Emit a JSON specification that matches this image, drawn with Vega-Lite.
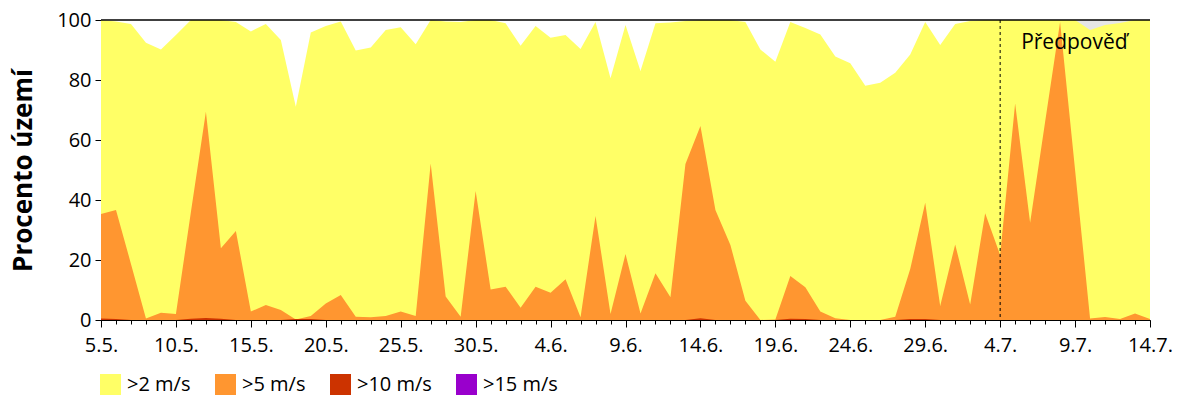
{
  "$schema": "https://vega.github.io/schema/vega-lite/v6.json",
  "width": 1049,
  "height": 300,
  "autosize": "none",
  "padding": {"left": 101, "top": 20, "right": 50, "bottom": 80},
  "background": "white",
  "config": {
    "view": {"stroke": null},
    "font": "Open Sans",
    "axis": {"domainColor": "black", "tickColor": "black", "labelColor": "black", "titleColor": "black", "grid": false}
  },
  "datasets": {
    "bg": [
      {"date": "2025-07-04", "value": 100}, {"date": "2025-07-05", "value": 100}, {"date": "2025-07-06", "value": 100},
      {"date": "2025-07-07", "value": 100}, {"date": "2025-07-08", "value": 100}, {"date": "2025-07-09", "value": 100},
      {"date": "2025-07-10", "value": 100}, {"date": "2025-07-11", "value": 100}, {"date": "2025-07-12", "value": 100},
      {"date": "2025-07-13", "value": 100}, {"date": "2025-07-14", "value": 100}
    ],
    "wind": [
      {"date": "2025-05-05", "cat": ">2 m/s", "value": 100},
      {"date": "2025-05-06", "cat": ">2 m/s", "value": 99.5},
      {"date": "2025-05-07", "cat": ">2 m/s", "value": 98.7},
      {"date": "2025-05-08", "cat": ">2 m/s", "value": 92.4},
      {"date": "2025-05-09", "cat": ">2 m/s", "value": 90.2},
      {"date": "2025-05-10", "cat": ">2 m/s", "value": 95},
      {"date": "2025-05-11", "cat": ">2 m/s", "value": 100},
      {"date": "2025-05-12", "cat": ">2 m/s", "value": 100},
      {"date": "2025-05-13", "cat": ">2 m/s", "value": 100},
      {"date": "2025-05-14", "cat": ">2 m/s", "value": 99.3},
      {"date": "2025-05-15", "cat": ">2 m/s", "value": 96.2},
      {"date": "2025-05-16", "cat": ">2 m/s", "value": 98.7},
      {"date": "2025-05-17", "cat": ">2 m/s", "value": 93.3},
      {"date": "2025-05-18", "cat": ">2 m/s", "value": 71.1},
      {"date": "2025-05-19", "cat": ">2 m/s", "value": 95.8},
      {"date": "2025-05-20", "cat": ">2 m/s", "value": 98},
      {"date": "2025-05-21", "cat": ">2 m/s", "value": 99.5},
      {"date": "2025-05-22", "cat": ">2 m/s", "value": 89.8},
      {"date": "2025-05-23", "cat": ">2 m/s", "value": 90.8},
      {"date": "2025-05-24", "cat": ">2 m/s", "value": 96.7},
      {"date": "2025-05-25", "cat": ">2 m/s", "value": 97.6},
      {"date": "2025-05-26", "cat": ">2 m/s", "value": 91.9},
      {"date": "2025-05-27", "cat": ">2 m/s", "value": 100},
      {"date": "2025-05-28", "cat": ">2 m/s", "value": 99.5},
      {"date": "2025-05-29", "cat": ">2 m/s", "value": 99.3},
      {"date": "2025-05-30", "cat": ">2 m/s", "value": 100},
      {"date": "2025-05-31", "cat": ">2 m/s", "value": 100},
      {"date": "2025-06-01", "cat": ">2 m/s", "value": 98.9},
      {"date": "2025-06-02", "cat": ">2 m/s", "value": 91.4},
      {"date": "2025-06-03", "cat": ">2 m/s", "value": 98},
      {"date": "2025-06-04", "cat": ">2 m/s", "value": 94.1},
      {"date": "2025-06-05", "cat": ">2 m/s", "value": 95},
      {"date": "2025-06-06", "cat": ">2 m/s", "value": 90.3},
      {"date": "2025-06-07", "cat": ">2 m/s", "value": 99.3},
      {"date": "2025-06-08", "cat": ">2 m/s", "value": 80.6},
      {"date": "2025-06-09", "cat": ">2 m/s", "value": 98.3},
      {"date": "2025-06-10", "cat": ">2 m/s", "value": 83},
      {"date": "2025-06-11", "cat": ">2 m/s", "value": 98.9},
      {"date": "2025-06-12", "cat": ">2 m/s", "value": 99.2},
      {"date": "2025-06-13", "cat": ">2 m/s", "value": 99.7},
      {"date": "2025-06-14", "cat": ">2 m/s", "value": 100},
      {"date": "2025-06-15", "cat": ">2 m/s", "value": 100},
      {"date": "2025-06-16", "cat": ">2 m/s", "value": 100},
      {"date": "2025-06-17", "cat": ">2 m/s", "value": 99.3},
      {"date": "2025-06-18", "cat": ">2 m/s", "value": 90.2},
      {"date": "2025-06-19", "cat": ">2 m/s", "value": 86.1},
      {"date": "2025-06-20", "cat": ">2 m/s", "value": 99.3},
      {"date": "2025-06-21", "cat": ">2 m/s", "value": 97.3},
      {"date": "2025-06-22", "cat": ">2 m/s", "value": 95.2},
      {"date": "2025-06-23", "cat": ">2 m/s", "value": 87.8},
      {"date": "2025-06-24", "cat": ">2 m/s", "value": 85.6},
      {"date": "2025-06-25", "cat": ">2 m/s", "value": 78.1},
      {"date": "2025-06-26", "cat": ">2 m/s", "value": 79.1},
      {"date": "2025-06-27", "cat": ">2 m/s", "value": 82.4},
      {"date": "2025-06-28", "cat": ">2 m/s", "value": 88.5},
      {"date": "2025-06-29", "cat": ">2 m/s", "value": 99.3},
      {"date": "2025-06-30", "cat": ">2 m/s", "value": 91.7},
      {"date": "2025-07-01", "cat": ">2 m/s", "value": 98.7},
      {"date": "2025-07-02", "cat": ">2 m/s", "value": 99.7},
      {"date": "2025-07-03", "cat": ">2 m/s", "value": 100},
      {"date": "2025-07-04", "cat": ">2 m/s", "value": 100},
      {"date": "2025-07-05", "cat": ">2 m/s", "value": 100},
      {"date": "2025-07-06", "cat": ">2 m/s", "value": 100},
      {"date": "2025-07-07", "cat": ">2 m/s", "value": 100},
      {"date": "2025-07-08", "cat": ">2 m/s", "value": 100},
      {"date": "2025-07-09", "cat": ">2 m/s", "value": 100},
      {"date": "2025-07-10", "cat": ">2 m/s", "value": 96.7},
      {"date": "2025-07-11", "cat": ">2 m/s", "value": 98.3},
      {"date": "2025-07-12", "cat": ">2 m/s", "value": 99},
      {"date": "2025-07-13", "cat": ">2 m/s", "value": 100},
      {"date": "2025-07-14", "cat": ">2 m/s", "value": 100},

      {"date": "2025-05-05", "cat": ">5 m/s", "value": 35.3},
      {"date": "2025-05-06", "cat": ">5 m/s", "value": 36.7},
      {"date": "2025-05-07", "cat": ">5 m/s", "value": 18.7},
      {"date": "2025-05-08", "cat": ">5 m/s", "value": 0.5},
      {"date": "2025-05-09", "cat": ">5 m/s", "value": 2.4},
      {"date": "2025-05-10", "cat": ">5 m/s", "value": 2},
      {"date": "2025-05-11", "cat": ">5 m/s", "value": 36},
      {"date": "2025-05-12", "cat": ">5 m/s", "value": 69.4},
      {"date": "2025-05-13", "cat": ">5 m/s", "value": 23.9},
      {"date": "2025-05-14", "cat": ">5 m/s", "value": 29.7},
      {"date": "2025-05-15", "cat": ">5 m/s", "value": 2.8},
      {"date": "2025-05-16", "cat": ">5 m/s", "value": 5},
      {"date": "2025-05-17", "cat": ">5 m/s", "value": 3.3},
      {"date": "2025-05-18", "cat": ">5 m/s", "value": 0.2},
      {"date": "2025-05-19", "cat": ">5 m/s", "value": 1.3},
      {"date": "2025-05-20", "cat": ">5 m/s", "value": 5.5},
      {"date": "2025-05-21", "cat": ">5 m/s", "value": 8.3},
      {"date": "2025-05-22", "cat": ">5 m/s", "value": 1.1},
      {"date": "2025-05-23", "cat": ">5 m/s", "value": 0.9},
      {"date": "2025-05-24", "cat": ">5 m/s", "value": 1.3},
      {"date": "2025-05-25", "cat": ">5 m/s", "value": 2.8},
      {"date": "2025-05-26", "cat": ">5 m/s", "value": 1.3},
      {"date": "2025-05-27", "cat": ">5 m/s", "value": 52.2},
      {"date": "2025-05-28", "cat": ">5 m/s", "value": 7.8},
      {"date": "2025-05-29", "cat": ">5 m/s", "value": 1.1},
      {"date": "2025-05-30", "cat": ">5 m/s", "value": 43},
      {"date": "2025-05-31", "cat": ">5 m/s", "value": 10.2},
      {"date": "2025-06-01", "cat": ">5 m/s", "value": 11.1},
      {"date": "2025-06-02", "cat": ">5 m/s", "value": 4.1},
      {"date": "2025-06-03", "cat": ">5 m/s", "value": 11.1},
      {"date": "2025-06-04", "cat": ">5 m/s", "value": 9.1},
      {"date": "2025-06-05", "cat": ">5 m/s", "value": 13.6},
      {"date": "2025-06-06", "cat": ">5 m/s", "value": 0.9},
      {"date": "2025-06-07", "cat": ">5 m/s", "value": 34.7},
      {"date": "2025-06-08", "cat": ">5 m/s", "value": 2},
      {"date": "2025-06-09", "cat": ">5 m/s", "value": 22},
      {"date": "2025-06-10", "cat": ">5 m/s", "value": 2.2},
      {"date": "2025-06-11", "cat": ">5 m/s", "value": 15.6},
      {"date": "2025-06-12", "cat": ">5 m/s", "value": 7.6},
      {"date": "2025-06-13", "cat": ">5 m/s", "value": 52},
      {"date": "2025-06-14", "cat": ">5 m/s", "value": 64.7},
      {"date": "2025-06-15", "cat": ">5 m/s", "value": 36.7},
      {"date": "2025-06-16", "cat": ">5 m/s", "value": 25},
      {"date": "2025-06-17", "cat": ">5 m/s", "value": 6.4},
      {"date": "2025-06-18", "cat": ">5 m/s", "value": 0},
      {"date": "2025-06-19", "cat": ">5 m/s", "value": 0.2},
      {"date": "2025-06-20", "cat": ">5 m/s", "value": 14.7},
      {"date": "2025-06-21", "cat": ">5 m/s", "value": 10.9},
      {"date": "2025-06-22", "cat": ">5 m/s", "value": 2.8},
      {"date": "2025-06-23", "cat": ">5 m/s", "value": 0.6},
      {"date": "2025-06-24", "cat": ">5 m/s", "value": 0},
      {"date": "2025-06-25", "cat": ">5 m/s", "value": 0},
      {"date": "2025-06-26", "cat": ">5 m/s", "value": 0},
      {"date": "2025-06-27", "cat": ">5 m/s", "value": 1.1},
      {"date": "2025-06-28", "cat": ">5 m/s", "value": 17},
      {"date": "2025-06-29", "cat": ">5 m/s", "value": 39.1},
      {"date": "2025-06-30", "cat": ">5 m/s", "value": 4.7},
      {"date": "2025-07-01", "cat": ">5 m/s", "value": 25.2},
      {"date": "2025-07-02", "cat": ">5 m/s", "value": 5.2},
      {"date": "2025-07-03", "cat": ">5 m/s", "value": 35.6},
      {"date": "2025-07-04", "cat": ">5 m/s", "value": 21.7},
      {"date": "2025-07-05", "cat": ">5 m/s", "value": 72.2},
      {"date": "2025-07-06", "cat": ">5 m/s", "value": 32.4},
      {"date": "2025-07-07", "cat": ">5 m/s", "value": 66},
      {"date": "2025-07-08", "cat": ">5 m/s", "value": 99.3},
      {"date": "2025-07-09", "cat": ">5 m/s", "value": 50},
      {"date": "2025-07-10", "cat": ">5 m/s", "value": 0.5},
      {"date": "2025-07-11", "cat": ">5 m/s", "value": 1},
      {"date": "2025-07-12", "cat": ">5 m/s", "value": 0.3},
      {"date": "2025-07-13", "cat": ">5 m/s", "value": 2.2},
      {"date": "2025-07-14", "cat": ">5 m/s", "value": 0.3},

      {"date": "2025-05-05", "cat": ">10 m/s", "value": 0.5},
      {"date": "2025-05-06", "cat": ">10 m/s", "value": 0.3},
      {"date": "2025-05-07", "cat": ">10 m/s", "value": 0},
      {"date": "2025-05-10", "cat": ">10 m/s", "value": 0},
      {"date": "2025-05-11", "cat": ">10 m/s", "value": 0.4},
      {"date": "2025-05-12", "cat": ">10 m/s", "value": 0.7},
      {"date": "2025-05-13", "cat": ">10 m/s", "value": 0.4},
      {"date": "2025-05-14", "cat": ">10 m/s", "value": 0},
      {"date": "2025-05-17", "cat": ">10 m/s", "value": 0},
      {"date": "2025-05-18", "cat": ">10 m/s", "value": 0.3},
      {"date": "2025-05-19", "cat": ">10 m/s", "value": 0.3},
      {"date": "2025-05-20", "cat": ">10 m/s", "value": 0},
      {"date": "2025-06-13", "cat": ">10 m/s", "value": 0},
      {"date": "2025-06-14", "cat": ">10 m/s", "value": 0.6},
      {"date": "2025-06-15", "cat": ">10 m/s", "value": 0},
      {"date": "2025-06-19", "cat": ">10 m/s", "value": 0},
      {"date": "2025-06-20", "cat": ">10 m/s", "value": 0.4},
      {"date": "2025-06-21", "cat": ">10 m/s", "value": 0.3},
      {"date": "2025-06-22", "cat": ">10 m/s", "value": 0},
      {"date": "2025-06-27", "cat": ">10 m/s", "value": 0},
      {"date": "2025-06-28", "cat": ">10 m/s", "value": 0.3},
      {"date": "2025-06-29", "cat": ">10 m/s", "value": 0.3},
      {"date": "2025-06-30", "cat": ">10 m/s", "value": 0},
      {"date": "2025-07-14", "cat": ">10 m/s", "value": 0}
    ]
  },
  "layer": [
    {
      "data": {"name": "bg"},
      "mark": {"type": "area", "color": "#E6E6E6", "interpolate": "linear"},
      "encoding": {
        "x": {
          "field": "date",
          "type": "temporal",
          "scale": {
            "type": "utc",
            "domain": [
              {"year": 2025, "month": 5, "date": 5, "utc": true},
              {"year": 2025, "month": 7, "date": 14, "utc": true}
            ],
            "nice": false
          },
          "axis": {
            "orient": "bottom",
            "title": null,
            "labels": false,
            "domain": true,
            "domainWidth": 1,
            "ticks": true,
            "tickSize": 4,
            "tickWidth": 1,
            "tickCount": {"interval": "day", "step": 1}
          }
        },
        "y": {
          "field": "value",
          "type": "quantitative",
          "scale": {"domain": [0, 100], "nice": false},
          "axis": {
            "title": "Procento území",
            "titleFontSize": 26,
            "titleFontWeight": "bold",
            "titlePadding": 20,
            "values": [0, 20, 40, 60, 80, 100],
            "labelFontSize": 20,
            "labelPadding": 4,
            "tickSize": 6,
            "domainWidth": 1
          }
        }
      }
    },
    {
      "data": {"name": "wind"},
      "transform": [{"filter": "datum.cat === '>2 m/s'"}],
      "mark": {"type": "area", "interpolate": "linear"},
      "encoding": {
        "x": {
          "field": "date",
          "type": "temporal",
          "axis": {
            "orient": "bottom",
            "title": null,
            "format": "%-d.%-m.",
            "labelFontSize": 20,
            "labelPadding": 8,
            "labelFlush": false,
            "labelOverlap": false,
            "domain": false,
            "tickSize": 7,
            "tickWidth": 1,
            "values": [
              {"year": 2025, "month": 5, "date": 5, "utc": true},
              {"year": 2025, "month": 5, "date": 10, "utc": true},
              {"year": 2025, "month": 5, "date": 15, "utc": true},
              {"year": 2025, "month": 5, "date": 20, "utc": true},
              {"year": 2025, "month": 5, "date": 25, "utc": true},
              {"year": 2025, "month": 5, "date": 30, "utc": true},
              {"year": 2025, "month": 6, "date": 4, "utc": true},
              {"year": 2025, "month": 6, "date": 9, "utc": true},
              {"year": 2025, "month": 6, "date": 14, "utc": true},
              {"year": 2025, "month": 6, "date": 19, "utc": true},
              {"year": 2025, "month": 6, "date": 24, "utc": true},
              {"year": 2025, "month": 6, "date": 29, "utc": true},
              {"year": 2025, "month": 7, "date": 4, "utc": true},
              {"year": 2025, "month": 7, "date": 9, "utc": true},
              {"year": 2025, "month": 7, "date": 14, "utc": true}
            ]
          }
        },
        "y": {"field": "value", "type": "quantitative", "stack": null},
        "color": {
          "field": "cat",
          "type": "nominal",
          "scale": {
            "domain": [">2 m/s", ">5 m/s", ">10 m/s", ">15 m/s"],
            "range": ["#FFFF66", "#FF9630", "#CC3300", "#9900CC"]
          },
          "legend": {
            "title": null,
            "orient": "none",
            "direction": "horizontal",
            "legendX": -1,
            "legendY": 354,
            "symbolType": "square",
            "symbolSize": 441,
            "symbolStrokeWidth": 0,
            "symbolOpacity": 1,
            "labelFontSize": 20,
            "labelOffset": 6,
            "labelColor": "black",
            "columnPadding": 24
          }
        }
      }
    },
    {
      "data": {"name": "wind"},
      "transform": [{"filter": "datum.cat === '>5 m/s'"}],
      "mark": {"type": "area", "interpolate": "linear"},
      "encoding": {
        "x": {"field": "date", "type": "temporal", "axis": null},
        "y": {"field": "value", "type": "quantitative", "stack": null},
        "color": {"field": "cat", "type": "nominal"}
      }
    },
    {
      "data": {"name": "wind"},
      "transform": [{"filter": "datum.cat === '>10 m/s'"}],
      "mark": {"type": "area", "interpolate": "linear"},
      "encoding": {
        "x": {"field": "date", "type": "temporal", "axis": null},
        "y": {"field": "value", "type": "quantitative", "stack": null},
        "color": {"field": "cat", "type": "nominal"}
      }
    },
    {
      "data": {"values": [{}]},
      "mark": {"type": "rule", "color": "black", "strokeWidth": 1.5},
      "encoding": {"y": {"datum": 100, "type": "quantitative"}}
    },
    {
      "data": {"values": [{}]},
      "mark": {"type": "rule", "color": "black", "strokeWidth": 1, "strokeDash": [3, 3]},
      "encoding": {
        "x": {"datum": {"year": 2025, "month": 7, "date": 4, "utc": true}, "type": "temporal", "axis": null}
      }
    },
    {
      "data": {"values": [{}]},
      "mark": {"type": "text", "text": "Předpověď", "fontSize": 21, "color": "black", "align": "left", "baseline": "middle", "dx": 21},
      "encoding": {
        "x": {"datum": {"year": 2025, "month": 7, "date": 4, "utc": true}, "type": "temporal", "axis": null},
        "y": {"datum": 92.3, "type": "quantitative"}
      }
    }
  ],
  "resolve": {"axis": {"x": "independent"}}
}
